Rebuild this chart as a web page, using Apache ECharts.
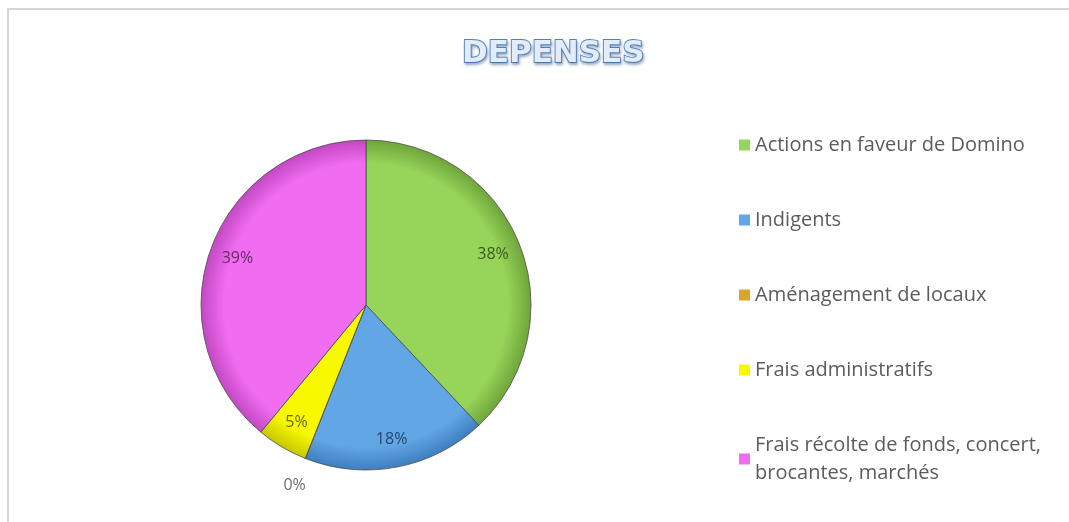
<!DOCTYPE html>
<html>
<head>
<meta charset="utf-8">
<script src="https://cdn.jsdelivr.net/npm/echarts@6/dist/echarts.min.js"></script>
<style>
html,body{margin:0;padding:0;background:#fff;}
#main{width:1069px;height:522px;}
</style>
</head>
<body>
<div id="main"></div>
<script>
var titleText = 'DEPENSES';
var categories = ['Actions en faveur de Domino', 'Indigents', 'Aménagement de locaux', 'Frais administratifs', 'Frais récolte de fonds, concert,\nbrocantes, marchés'];
var values = [38, 18, 0, 5, 39];
var colors = ['#96d45a', '#62a6e6', '#d8a628', '#f8f800', '#f06cf0'];
var edgeColors = ['#6fa53a', '#3f7fbf', '#a87c12', '#c8c800', '#c348c3'];
var labelColors = ['#3b5a1e', '#23466e', '#6b5010', '#6a6a00', '#6b2a6b'];

var cx = 366, cy = 305, R = 165;

function grad(i) {
  return {
    type: 'radial', x: cx, y: cy, r: R, global: true,
    colorStops: [
      {offset: 0, color: colors[i]},
      {offset: 0.86, color: colors[i]},
      {offset: 1, color: edgeColors[i]}
    ]
  };
}

var mainData = categories.map(function (c, i) {
  return {name: c, value: values[i], itemStyle: {color: grad(i)}};
});
var labelData = categories.map(function (c, i) {
  return {name: c, value: values[i],
    label: {show: values[i] > 0, color: labelColors[i]}};
});
var outerData = categories.map(function (c, i) {
  return {name: c, value: values[i],
    label: {show: values[i] === 0, color: '#6e6e6e'}};
});

var chart = echarts.init(document.getElementById('main'));
chart.setOption({
  backgroundColor: '#ffffff',
  animation: false,
  color: colors,
  title: {
    text: titleText,
    left: 457,
    top: 33,
    textStyle: {
      fontFamily: 'DejaVu Sans',
      fontWeight: 'bold',
      fontSize: 31,
      color: '#e2edf9',
      textBorderColor: '#4f82c4',
      textBorderWidth: 1.8,
      textShadowColor: 'rgba(60,90,140,0.45)',
      textShadowBlur: 3,
      textShadowOffsetX: 1,
      textShadowOffsetY: 2
    }
  },
  legend: {
    orient: 'vertical',
    left: 734,
    top: 126,
    itemWidth: 11,
    itemHeight: 11,
    itemGap: 47,
    icon: 'rect',
    itemStyle: {borderWidth: 0},
    data: categories.map(function (c, i) { return {name: c, itemStyle: {color: colors[i], borderWidth: 0}}; }),
    textStyle: {
      fontFamily: 'Open Sans',
      fontSize: 20,
      color: '#5c5c5c',
      lineHeight: 28
    }
  },
  graphic: [{
    type: 'rect',
    shape: {x: 8, y: 9, width: 1200, height: 700},
    style: {fill: 'none', stroke: '#d6d6d6', lineWidth: 2},
    silent: true
  }],
  series: [
    {
      type: 'pie',
      center: [cx, cy],
      radius: [0, R],
      startAngle: 90,
      clockwise: true,
      silent: true,
      label: {show: false},
      labelLine: {show: false},
      itemStyle: {borderColor: 'rgba(70,70,70,0.75)', borderWidth: 1},
      data: mainData
    },
    {
      type: 'pie',
      center: [cx, cy],
      radius: [R * 0.62, R],
      startAngle: 90,
      clockwise: true,
      silent: true,
      itemStyle: {color: 'rgba(0,0,0,0)'},
      label: {
        position: 'inside',
        fontFamily: 'Open Sans',
        fontSize: 16,
        formatter: function (p) { return Math.round(p.percent) + '%'; }
      },
      labelLine: {show: false},
      data: labelData
    },
    {
      type: 'pie',
      center: [cx, cy],
      radius: [R + 12, R + 40],
      startAngle: 90,
      clockwise: true,
      silent: true,
      itemStyle: {color: 'rgba(0,0,0,0)'},
      label: {
        position: 'inside',
        fontFamily: 'Open Sans',
        fontSize: 16,
        formatter: function (p) { return Math.round(p.percent) + '%'; }
      },
      labelLine: {show: false},
      data: outerData
    }
  ]
});
</script>
</body>
</html>
